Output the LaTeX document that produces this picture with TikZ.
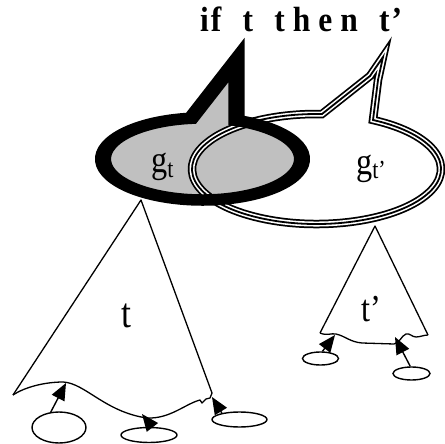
\documentclass[tikz,border=0pt]{standalone}
\usepackage{fontspec}
\setmainfont{Liberation Serif}
\usetikzlibrary{arrows.meta,shapes.geometric}
\definecolor{bubblegray}{RGB}{192,192,192}
\begin{document}
\begin{tikzpicture}[x=1pt,y=-1pt,
  treeline/.style={line width=1.3pt, line join=round},
  leaf/.style={draw, ellipse, line width=1.4pt, inner sep=0pt},
  ptr/.style={line width=1.4pt, -{Triangle[length=17pt,width=14pt]}},
  lbl/.style={inner sep=0pt, anchor=base west},
]
\useasboundingbox (0,0) rectangle (445,444);

% left tree
\coordinate (lta) at (141,200);
\coordinate (ltl) at (13,395);
\coordinate (ltr) at (212,393);
\draw[treeline] (ltl) -- (lta) -- (ltr);
\coordinate (lc1) at (63,382);
\coordinate (lc2) at (147,418);
\coordinate (lc3) at (200,400);
\draw[treeline] (ltl) .. controls (25,387) and (45,382) .. (lc1)
  .. controls (85,383) and (105,412) .. (lc2)
  .. controls (170,419) and (185,404) .. (lc3)
  -- (202,403) -- (206,399) -- (210,398) -- (ltr);

% right tree
\coordinate (rta) at (375,226);
\coordinate (rtl) at (320,333);
\coordinate (rtr) at (428,335);
\draw[treeline] (rtl) -- (rta) -- (rtr);
\draw[treeline] (rtl) .. controls (327,336) and (331,333) .. (336,334)
  .. controls (345,336) and (350,342) .. (362,343) -- (394,344)
  .. controls (400,343) and (401,336) .. (406,334)
  .. controls (410,333) and (412,337) .. (416,337)
  .. controls (420,337) and (424,335) .. (rtr);

% leaves
\node[leaf, minimum width=54pt, minimum height=31pt] (l1) at (59,427.5) {};
\node[leaf, minimum width=56pt, minimum height=15pt] (l2) at (149,435) {};
\node[leaf, minimum width=55pt, minimum height=15pt] (l3) at (239.5,419.5) {};
\node[leaf, minimum width=36pt, minimum height=13pt] (la) at (320.5,358.5) {};
\node[leaf, minimum width=37pt, minimum height=13pt] (lb) at (411.5,373.5) {};

% pointers
\coordinate (a1) at (66,383);
\coordinate (a2) at (142,414);
\coordinate (a3) at (212,397);
\coordinate (aa) at (335,335);
\coordinate (ab) at (395,337);
\draw[ptr] (l1.118) -- (a1);
\draw[ptr] (l2.70) -- (a2);
\draw[ptr] (l3.160) -- (a3);
\draw[ptr] (la.75) -- (aa);
\draw[ptr] (lb.100) -- (ab);

% left bubble fill
\begin{scope}[transform canvas={xscale=1.4}]
\fill[bubblegray] (168.93,120.47) arc[start angle=-70.02, end angle=263.4, x radius=71.07, y radius=41] -- (168.93,60) -- cycle;
\end{scope}

% right bubble (triple line)
\foreach \w/\c in {8.5/black,5/white,1.8/black}{
  \draw[line width=\w pt, draw=\c, line join=miter] (373.02,120.0) arc[start angle=-63, end angle=272.5, x radius=124.5, y radius=55] -- (370,76) -- (383,57) -- (378,80) -- cycle;
}

% left bubble outline
\begin{scope}[transform canvas={xscale=1.4}]
\draw[line width=11.5pt, line join=miter] (168.93,120.47) arc[start angle=-70.02, end angle=263.4, x radius=71.07, y radius=41] -- (168.93,60) -- cycle;
\end{scope}

% labels
\node[lbl] (title) at (200,32) {\scalebox{0.9}[1]{\fontsize{35}{35}\selectfont\bfseries i\hspace{2.2pt}f\hspace{23.6pt}t\hspace{23.6pt}t\hspace{8.9pt}h\hspace{8.9pt}e\hspace{8.9pt}n\hspace{23.6pt}t\hspace{2.2pt}’}};
\node[lbl] (gl) at (151,172) {\scalebox{0.85}[1]{\fontsize{38}{38}\selectfont g\raisebox{-5pt}{\fontsize{26}{26}\selectfont t}}};
\node[lbl] (gr) at (356,174) {\scalebox{0.85}[1]{\fontsize{38}{38}\selectfont g\raisebox{-5pt}{\fontsize{26}{26}\selectfont t’}}};
\node[lbl] (tl) at (121,327) {\scalebox{0.85}[1]{\fontsize{42}{42}\selectfont t}};
\node[lbl] (tr) at (361,321) {\scalebox{0.85}[1]{\fontsize{38}{38}\selectfont t’}};
\end{tikzpicture}
\end{document}
